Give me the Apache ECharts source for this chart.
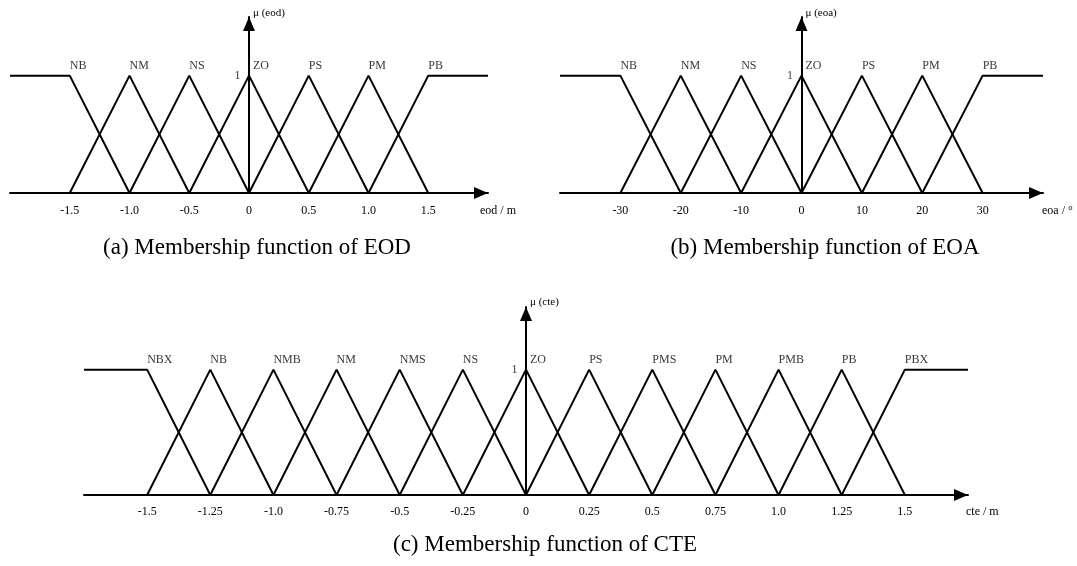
<!DOCTYPE html>
<html>
<head>
<meta charset="utf-8">
<script src="https://cdn.jsdelivr.net/npm/echarts@6/dist/echarts.min.js"></script>
<style>html,body{margin:0;padding:0;background:#fff;}#c{width:1077px;height:566px;}</style>
</head>
<body>
<div id="c"></div>
<script>
// ---- (a) EOD ----
const eodLabels = ['NB','NM','NS','ZO','PS','PM','PB'];
const eodLeft   = [-2.0,-1.5,-1.0,-0.5,0.0,0.5,1.0];
const eodPeak   = [-1.5,-1.0,-0.5,0.0,0.5,1.0,1.5];
const eodRight  = [-1.0,-0.5,0.0,0.5,1.0,1.5,2.0];
const eodLeftMu = [1,0,0,0,0,0,0];
const eodRightMu= [0,0,0,0,0,0,1];
const eodTicks  = ['-1.5','-1.0','-0.5','0','0.5','1.0','1.5'];
// ---- (b) EOA ----
const eoaLabels = ['NB','NM','NS','ZO','PS','PM','PB'];
const eoaLeft   = [-40,-30,-20,-10,0,10,20];
const eoaPeak   = [-30,-20,-10,0,10,20,30];
const eoaRight  = [-20,-10,0,10,20,30,40];
const eoaLeftMu = [1,0,0,0,0,0,0];
const eoaRightMu= [0,0,0,0,0,0,1];
const eoaTicks  = ['-30','-20','-10','0','10','20','30'];
// ---- (c) CTE ----
const cteLabels = ['NBX','NB','NMB','NM','NMS','NS','ZO','PS','PMS','PM','PMB','PB','PBX'];
const cteLeft   = [-1.75,-1.5,-1.25,-1.0,-0.75,-0.5,-0.25,0,0.25,0.5,0.75,1.0,1.25];
const ctePeak   = [-1.5,-1.25,-1.0,-0.75,-0.5,-0.25,0,0.25,0.5,0.75,1.0,1.25,1.5];
const cteRight  = [-1.25,-1.0,-0.75,-0.5,-0.25,0,0.25,0.5,0.75,1.0,1.25,1.5,1.75];
const cteLeftMu = [1,0,0,0,0,0,0,0,0,0,0,0,0];
const cteRightMu= [0,0,0,0,0,0,0,0,0,0,0,0,1];
const cteTicks  = ['-1.5','-1.25','-1.0','-0.75','-0.5','-0.25','0','0.25','0.5','0.75','1.0','1.25','1.5'];
const muTickLabel = '1';

const FONT = '"Liberation Serif","Times New Roman",serif';
const grids = [
  {left:10, top:17, width:478, height:176, outerBoundsMode:'none', containLabel:false},
  {left:560, top:17, width:483, height:176, outerBoundsMode:'none', containLabel:false},
  {left:84, top:307, width:884, height:188, outerBoundsMode:'none', containLabel:false}
];
const xAxes = [], yAxes = [], series = [];

function build(gi, labels, left, peak, right, lmu, rmu, ticks, xmin, xmax, step, xname, yname, nameGap, yNameGap, labMargin) {
  xAxes.push({
    type:'value', gridIndex:gi, min:xmin, max:xmax, interval:step,
    splitLine:{show:false}, axisTick:{show:false},
    axisLine:{onZero:true, symbol:['none','triangle'], symbolSize:[12,14], symbolOffset:[0,-7],
      lineStyle:{color:'#000', width:2}},
    axisLabel:{showMinLabel:false, showMaxLabel:false, margin:labMargin, color:'#000', fontFamily:FONT, fontSize:12,
      formatter:function(v){ const i = peak.findIndex(p=>Math.abs(p-v)<1e-9); return i>=0 ? ticks[i] : ''; }},
    name:xname, nameLocation:'end', nameGap:nameGap,
    nameTextStyle:{color:'#000', fontFamily:FONT, fontSize:12, align:'left', verticalAlign:'top', padding:[labMargin,0,0,0]}
  });
  yAxes.push({
    type:'value', gridIndex:gi, min:0, max:1.5, interval:0.5,
    splitLine:{show:false}, axisTick:{show:false}, axisLabel:{show:false},
    axisLine:{onZero:true, symbol:['none','triangle'], symbolSize:[12,14], symbolOffset:[0,-7],
      lineStyle:{color:'#000', width:2}},
    name:yname, nameLocation:'end', nameGap:yNameGap,
    nameTextStyle:{color:'#000', fontFamily:FONT, fontSize:11, align:'left', verticalAlign:'middle', padding:[0,0,0,4]}
  });
  for (let i=0;i<labels.length;i++) {
    series.push({
      type:'line', xAxisIndex:gi, yAxisIndex:gi, showSymbol:false, animation:false, silent:true,
      lineStyle:{color:'#000', width:2},
      data:[[left[i], lmu[i]],[peak[i],1],[right[i], rmu[i]]]
    });
  }
  series.push({
    type:'scatter', xAxisIndex:gi, yAxisIndex:gi, symbolSize:1, animation:false, silent:true,
    itemStyle:{color:'rgba(0,0,0,0)'},
    label:{show:true, position:'top', distance:3, align:'left', formatter:'{b}', color:'#000', fontFamily:FONT, fontSize:12},
    data: peak.map((p,i)=>({value:[p,1], name:labels[i], label: Math.abs(p)<1e-9 ? {offset:[4,0]} : {}}))
  });
  // the "1" mark on the membership axis
  series.push({
    type:'scatter', xAxisIndex:gi, yAxisIndex:gi, symbolSize:1, animation:false, silent:true,
    itemStyle:{color:'rgba(0,0,0,0)'},
    label:{show:true, position:'left', distance:8, formatter:'{b}', color:'#000', fontFamily:FONT, fontSize:12},
    data:[{value:[0,1], name:muTickLabel}]
  });
}

build(0, eodLabels, eodLeft, eodPeak, eodRight, eodLeftMu, eodRightMu, eodTicks, -2, 2, 0.5, 'eod / m', 'μ (eod)', -8, 4, 12);
build(1, eoaLabels, eoaLeft, eoaPeak, eoaRight, eoaLeftMu, eoaRightMu, eoaTicks, -40, 40, 10, 'eoa / °', 'μ (eoa)', -1, 4, 12);
build(2, cteLabels, cteLeft, ctePeak, cteRight, cteLeftMu, cteRightMu, cteTicks, -1.75, 1.75, 0.25, 'cte / m', 'μ (cte)', -2, 5, 11);

const chart = echarts.init(document.getElementById('c'), null, {renderer:'canvas'});
chart.setOption({
  animation:false,
  backgroundColor:'#fff',
  grid:grids, xAxis:xAxes, yAxis:yAxes, series:series,
  graphic:[
    {type:'text', x:257, y:248, style:{text:'(a) Membership function of EOD', fontFamily:FONT, fontSize:23, fill:'#000', align:'center', verticalAlign:'middle'}},
    {type:'text', x:825, y:248, style:{text:'(b) Membership function of EOA', fontFamily:FONT, fontSize:23, fill:'#000', align:'center', verticalAlign:'middle'}},
    {type:'text', x:545, y:545, style:{text:'(c) Membership function of CTE', fontFamily:FONT, fontSize:23, fill:'#000', align:'center', verticalAlign:'middle'}}
  ]
});
</script>
</body>
</html>
